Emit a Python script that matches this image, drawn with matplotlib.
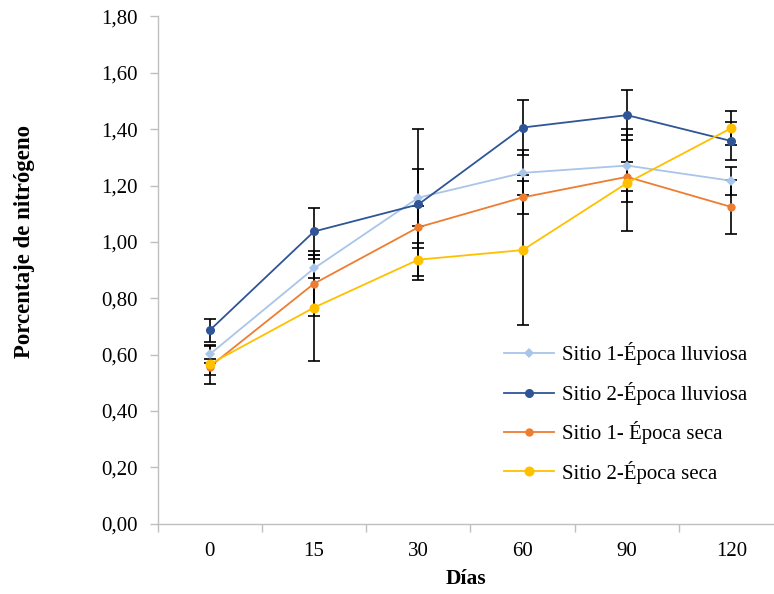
import matplotlib
matplotlib.use("Agg")
import matplotlib.pyplot as plt
from matplotlib.ticker import FuncFormatter

plt.rcParams['font.family'] = ['Liberation Serif', 'DejaVu Serif']

categories = ["0", "15", "30", "60", "90", "120"]

s1_lluv = [0.601, 0.906, 1.157, 1.245, 1.271, 1.217]
s1_lluv_err = [0.031, 0.035, 0.101, 0.080, 0.129, 0.049]

s2_lluv = [0.686, 1.037, 1.133, 1.406, 1.450, 1.358]
s2_lluv_err = [0.040, 0.082, 0.268, 0.099, 0.088, 0.067]

s1_seca = [0.557, 0.852, 1.052, 1.158, 1.231, 1.124]
s1_seca_err = [0.028, 0.115, 0.075, 0.058, 0.052, 0.096]

s2_seca = [0.566, 0.767, 0.937, 0.971, 1.209, 1.404]
s2_seca_err = [0.069, 0.188, 0.059, 0.266, 0.170, 0.060]

labels = ["Sitio 1-Época lluviosa", "Sitio 2-Época lluviosa",
          "Sitio 1- Época seca", "Sitio 2-Época seca"]
colors = ["#A9C5E9", "#2F5597", "#ED7D31", "#FFC000"]
markers = ["D", "o", "o", "o"]
msizes = [5.2, 6.5, 6.0, 7.2]

W, H = 774, 594
fig = plt.figure(figsize=(W / 100, H / 100), dpi=100)
left, right = 157.5, 783.5
bottom, top = 523.7, 16.5
ax = fig.add_axes([left / W, (H - bottom) / H, (right - left) / W, (bottom - top) / H])

x = list(range(len(categories)))
series = [(s1_lluv, s1_lluv_err), (s2_lluv, s2_lluv_err),
          (s1_seca, s1_seca_err), (s2_seca, s2_seca_err)]

handles = []
for (vals, errs), c, m, ms, lab in zip(series, colors, markers, msizes, labels):
    ax.errorbar(x, vals, yerr=errs, fmt='none', ecolor='black',
                elinewidth=1.2, capsize=4, capthick=1.2, zorder=2)
for (vals, errs), c, m, ms, lab in zip(series, colors, markers, msizes, labels):
    h, = ax.plot(x, vals, color=c, marker=m, markersize=ms, linewidth=1.3,
                 markeredgewidth=0, label=lab, zorder=3)
    handles.append(h)

ax.set_xlim(-0.5, len(categories) - 0.5)
ax.set_ylim(0, 1.8)
ax.set_yticks([i * 0.2 for i in range(10)])
ax.yaxis.set_major_formatter(FuncFormatter(lambda v, p: f"{v:.2f}".replace(".", ",")))
ax.set_xticks(x)
ax.set_xticklabels(categories)
ax.set_xticks([i - 0.5 for i in range(len(categories) + 1)], minor=True)
ax.tick_params(axis='x', which='major', length=0, pad=13, labelsize=15)
ax.tick_params(axis='x', which='minor', length=6, color='#BFBFBF', width=1)
ax.tick_params(axis='y', which='major', length=6, color='#BFBFBF', width=1,
               labelsize=15, pad=8)

for s in ['top', 'right']:
    ax.spines[s].set_visible(False)
for s in ['left', 'bottom']:
    ax.spines[s].set_color('#BFBFBF')
    ax.spines[s].set_linewidth(1)

fig.text(466 / W, 1 - 579 / H, "Días", ha='center', va='center',
         fontsize=15.5, fontweight='bold')
fig.text(25 / W, 1 - 241 / H, "Porcentaje de nitrógeno", ha='center', va='center',
         rotation=90, fontsize=16.5, fontweight='bold')

leg = fig.legend(handles=handles, loc='upper left',
                 bbox_to_anchor=(496 / W, 1 - 334 / H), frameon=False,
                 fontsize=15, handlelength=2.4, labelspacing=0.79,
                 handletextpad=0.35, borderaxespad=0)

fig.savefig("out.png", dpi=100)
